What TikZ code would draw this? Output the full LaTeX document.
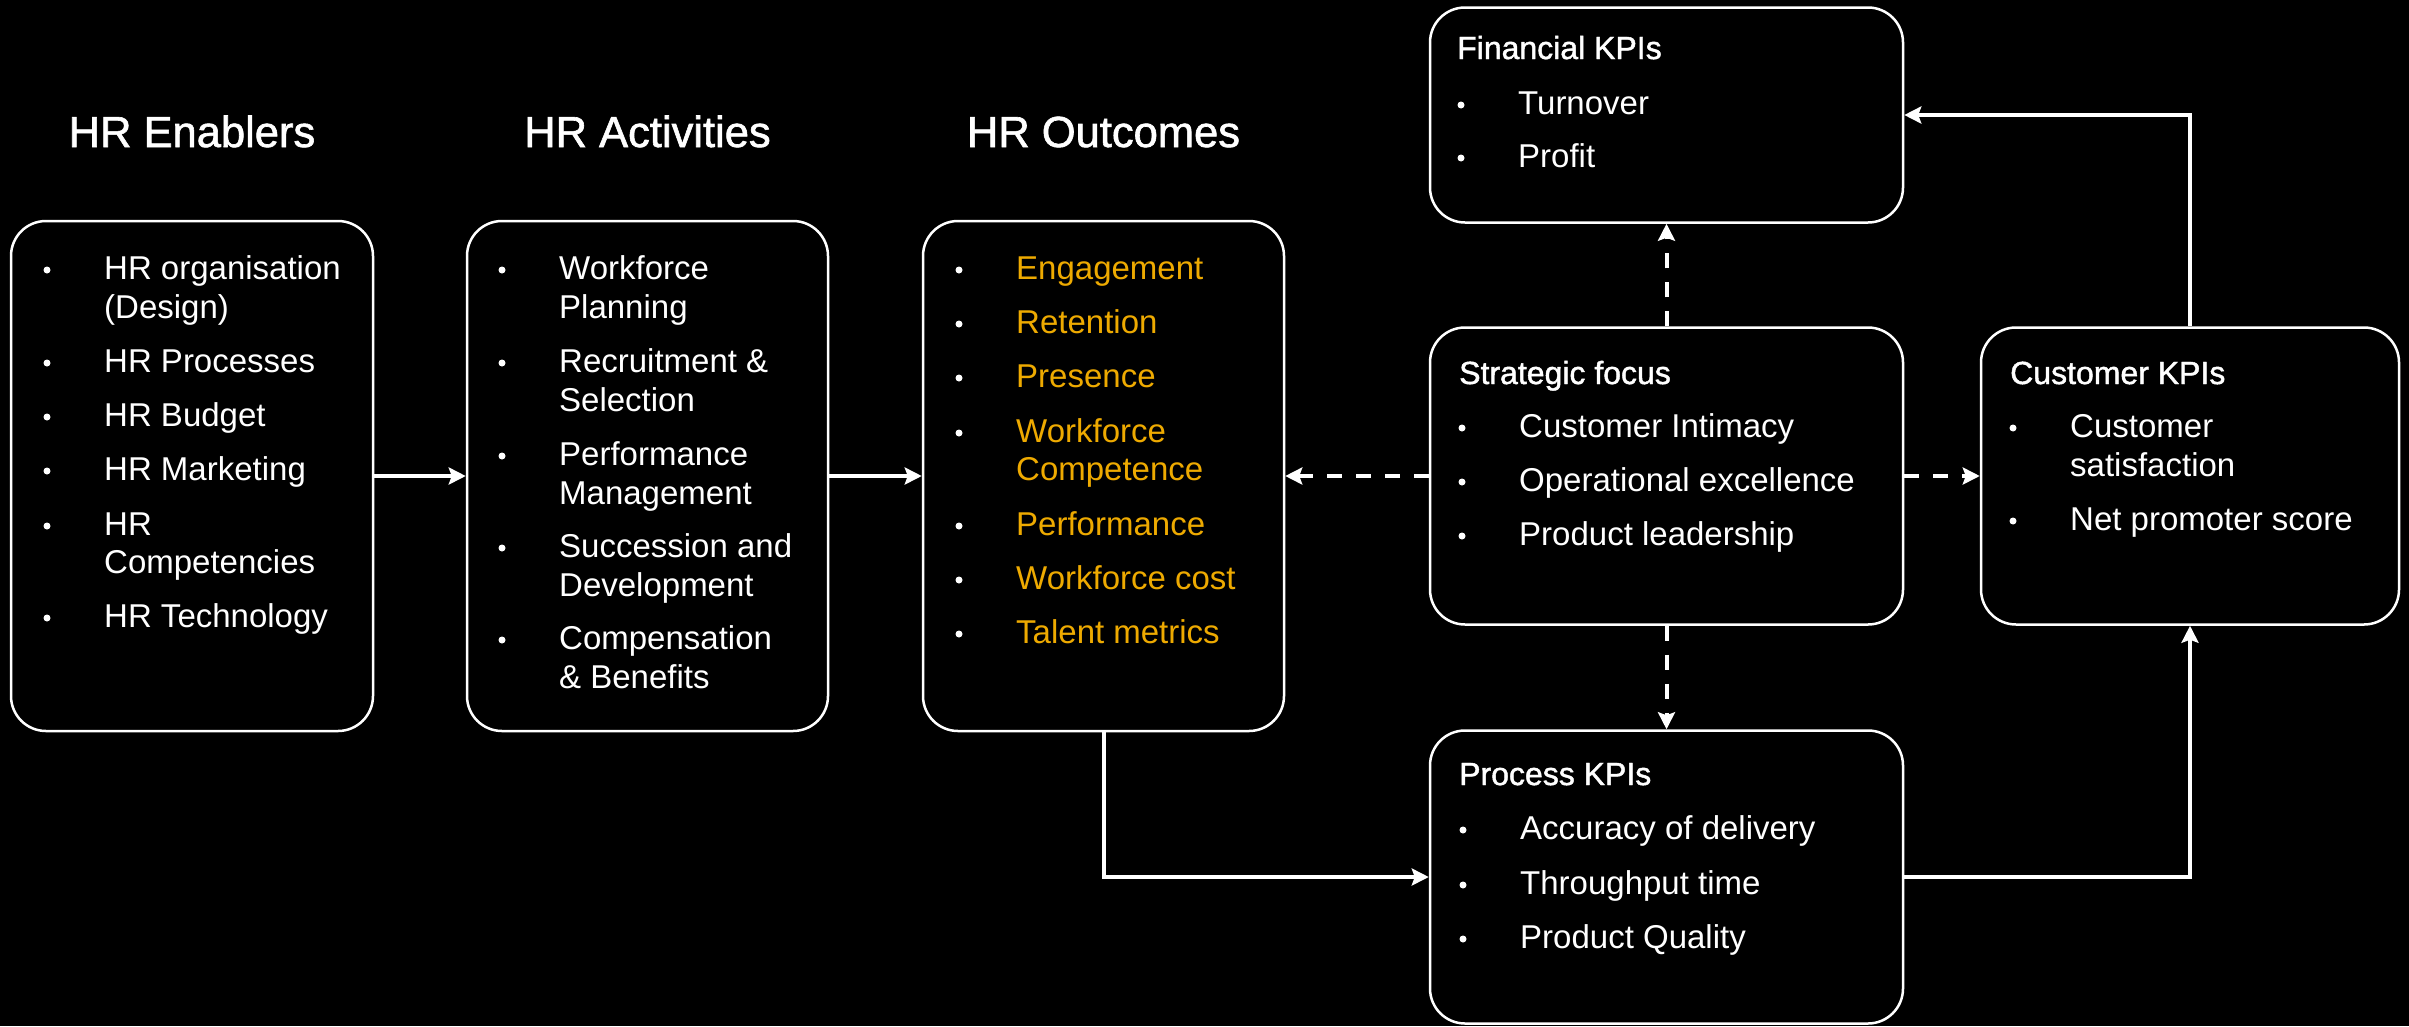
\documentclass[tikz,border=0pt]{standalone}
\usepackage{fontspec}
\setmainfont{Liberation Sans}
\newfontfamily\headfont[FakeBold=1.4]{Liberation Sans}
\usetikzlibrary{arrows.meta}
\definecolor{accent}{RGB}{238,170,0}

% one bulleted line: name, bullet x, baseline y, text
\newcommand{\bulletline}[4]{%
  \node[dot] (#1-dot) at (#2,#3-9) {};
  \node[itemtext] (#1) at (#2+57,#3) {#4};}
% continuation line of a bulleted entry: name, bullet x, baseline y, text
\newcommand{\moreline}[4]{%
  \node[itemtext] (#1) at (#2+57,#3) {#4};}

\begin{document}
\begin{tikzpicture}[x=1pt,y=-1pt,
  panel/.style={draw=white, line width=2.5pt, rounded corners=35pt, fill=black, inner sep=0pt},
  dot/.style={circle, fill=white, inner sep=0pt, minimum size=7pt},
  itemtext/.style={anchor=base west, inner sep=0pt, text=white, font=\fontsize{33}{39}\selectfont},
  headtext/.style={anchor=base west, inner sep=0pt, text=white, font=\headfont\fontsize{32}{38}\selectfont},
  coltitle/.style={anchor=base, inner sep=0pt, text=white, font=\headfont\fontsize{43.5}{50}\selectfont},
  flow/.style={draw=white, line width=4pt, -{Stealth[length=17pt,width=17pt,inset=3pt]}},
  link/.style={flow, dash pattern=on 15pt off 14pt}
]
\fill[black] (0,0) rectangle (2409,1026);
\useasboundingbox (0,0) rectangle (2409,1026);

% panels
\node[panel, minimum width=362pt, minimum height=510pt] (enablers)   at (192,476) {};
\node[panel, minimum width=361pt, minimum height=510pt] (activities) at (647.5,476) {};
\node[panel, minimum width=361pt, minimum height=510pt] (outcomes)   at (1103.5,476) {};
\node[panel, minimum width=473pt, minimum height=215pt] (financial)  at (1666.5,115) {};
\node[panel, minimum width=473pt, minimum height=297pt] (strategic)  at (1666.5,476) {};
\node[panel, minimum width=418pt, minimum height=297pt] (customer)   at (2190,476) {};
\node[panel, minimum width=473pt, minimum height=293pt] (process)    at (1666.5,877) {};

% column titles
\node[coltitle] (title-en)  at (192,147)    {HR Enablers};
\node[coltitle] (title-act) at (647.5,147)  {HR Activities};
\node[coltitle] (title-out) at (1103.5,147) {HR Outcomes};

% HR enablers
\bulletline{en1}{47}{279}{HR organisation}
\moreline{en1b}{47}{318}{(Design)}
\bulletline{en2}{47}{372}{HR Processes}
\bulletline{en3}{47}{426}{HR Budget}
\bulletline{en4}{47}{480}{HR Marketing}
\bulletline{en5}{47}{535}{HR}
\moreline{en5b}{47}{573}{Competencies}
\bulletline{en6}{47}{627}{HR Technology}

% HR activities
\bulletline{ac1}{502}{279}{Workforce}
\moreline{ac1b}{502}{318}{Planning}
\bulletline{ac2}{502}{372}{Recruitment \&}
\moreline{ac2b}{502}{411}{Selection}
\bulletline{ac3}{502}{465}{Performance}
\moreline{ac3b}{502}{504}{Management}
\bulletline{ac4}{502}{557}{Succession and}
\moreline{ac4b}{502}{596}{Development}
\bulletline{ac5}{502}{649}{Compensation}
\moreline{ac5b}{502}{688}{\& Benefits}

% HR outcomes
\begin{scope}[itemtext/.append style={text=accent}]
\bulletline{ou1}{959}{279}{Engagement}
\bulletline{ou2}{959}{333}{Retention}
\bulletline{ou3}{959}{387}{Presence}
\bulletline{ou4}{959}{442}{Workforce}
\moreline{ou4b}{959}{480}{Competence}
\bulletline{ou5}{959}{535}{Performance}
\bulletline{ou6}{959}{589}{Workforce cost}
\bulletline{ou7}{959}{643}{Talent metrics}
\end{scope}

% financial KPIs
\node[headtext] (fin-head) at (1457,59) {Financial KPIs};
\bulletline{fi1}{1461}{114}{Turnover}
\bulletline{fi2}{1461}{167}{Profit}

% strategic focus
\node[headtext] (str-head) at (1459,384) {Strategic focus};
\bulletline{st1}{1462}{437}{Customer Intimacy}
\bulletline{st2}{1462}{491}{Operational excellence}
\bulletline{st3}{1462}{545}{Product leadership}

% customer KPIs
\node[headtext] (cus-head) at (2010,384) {Customer KPIs};
\bulletline{cu1}{2013}{437}{Customer}
\moreline{cu1b}{2013}{476}{satisfaction}
\bulletline{cu2}{2013}{530}{Net promoter score}

% process KPIs
\node[headtext] (pro-head) at (1459,785) {Process KPIs};
\bulletline{pr1}{1463}{839}{Accuracy of delivery}
\bulletline{pr2}{1463}{894}{Throughput time}
\bulletline{pr3}{1463}{948}{Product Quality}

% connectors
\draw[flow] (enablers.east) -- (activities.west);
\draw[flow] (activities.east) -- (outcomes.west);
\draw[link] (strategic.west) -- (outcomes.east);
\draw[link] (strategic.east) -- (customer.west);
\draw[link] (strategic.north) -- (financial.south);
\draw[link] (strategic.south) -- (process.north);
\draw[flow] (outcomes.south) |- (process.west);
\draw[flow] (process.east) -| (customer.south);
\draw[flow] (customer.north) |- (financial.east);
\end{tikzpicture}
\end{document}
